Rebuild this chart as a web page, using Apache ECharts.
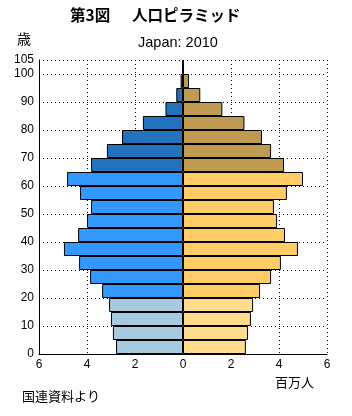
<!DOCTYPE html>
<html>
<head>
<meta charset="utf-8">
<script src="https://cdn.jsdelivr.net/npm/echarts@6/dist/echarts.min.js"></script>
<style>
html,body{margin:0;padding:0;background:#fff;}
#container{width:352px;height:416px;}
</style>
</head>
<body>
<div id="container"></div>
<script>
// 年齢階級 (5歳刻み)
var ageGroups = ['0-4','5-9','10-14','15-19','20-24','25-29','30-34','35-39','40-44','45-49',
    '50-54','55-59','60-64','65-69','70-74','75-79','80-84','85-89','90-94','95-99','100+'];
// 男 (百万人)
var male = [2.79, 2.92, 3.0, 3.08, 3.37, 3.87, 4.33, 4.96, 4.37, 4.0,
    3.83, 4.29, 4.83, 3.83, 3.17, 2.54, 1.67, 0.73, 0.28, 0.1, 0.02];
// 女 (百万人)
var female = [2.62, 2.71, 2.83, 2.92, 3.21, 3.67, 4.08, 4.79, 4.25, 3.92,
    3.79, 4.33, 5.0, 4.21, 3.67, 3.29, 2.56, 1.64, 0.72, 0.25, 0.02];
var yTicks = [0, 10, 20, 30, 40, 50, 60, 70, 80, 90, 100, 105];
var xTicks = [-6, -4, -2, 0, 2, 4, 6];

var maleColors = ['#a6cadf', '#3399ff', '#2372be'];
var femaleColors = ['#ffdc8c', '#ffcc66', '#be9b50'];

//年齢区分 0-19 / 20-64 / 65+
function band(i){
    if(i < 4) return 0;
    if(i < 13) return 1;
    return 2;
}

var maleData = [], femaleData = [];
for(var i = 0; i < ageGroups.length; i++){
    maleData.push({value: -male[i], itemStyle: {color: maleColors[band(i)]}});
    femaleData.push({value: female[i], itemStyle: {color: femaleColors[band(i)]}});
}

var dotted = {color: '#000', width: 1, type: [1, 3]};
var cjk = '"Noto Sans CJK JP", sans-serif';
var latin = '"Liberation Sans", Arial, sans-serif';

var option = {
    animation: false,
    backgroundColor: '#fff',
    grid: {left: 39, right: 25, top: 60, height: 294},
    xAxis: {
        type: 'value',
        min: xTicks[0],
        max: xTicks[xTicks.length - 1],
        interval: 2,
        axisLine: {show: true, lineStyle: {color: '#000', width: 1}},
        axisTick: {show: false},
        axisLabel: {
            color: '#000', fontSize: 12, fontFamily: latin, margin: 5,
            formatter: function(v){ return Math.abs(v); }
        },
        splitLine: {show: true, lineStyle: dotted}
    },
    yAxis: [{
        type: 'category',
        data: ageGroups,
        show: false
    }, {
        type: 'value',
        min: yTicks[0],
        max: yTicks[yTicks.length - 1],
        interval: 10,
        position: 'left',
        axisLine: {show: true, onZero: false, lineStyle: {color: '#000', width: 1}},
        axisTick: {show: false},
        axisLabel: {color: '#000', fontSize: 12, fontFamily: latin, margin: 5,
            showMaxLabel: true},
        splitLine: {show: true, lineStyle: dotted}
    }],
    series: [{
        name: '男',
        type: 'bar',
        stack: 'pop',
        yAxisIndex: 0,
        barCategoryGap: 0,
        itemStyle: {borderColor: '#000', borderWidth: 1},
        data: maleData
    }, {
        name: '女',
        type: 'bar',
        stack: 'pop',
        yAxisIndex: 0,
        barCategoryGap: 0,
        itemStyle: {borderColor: '#000', borderWidth: 1},
        data: femaleData
    }],
    graphic: [
        {type: 'text', left: 70, top: 7,
            style: {text: '第3図', font: 'bold 15.5px ' + cjk, fill: '#000'}},
        {type: 'text', left: 132, top: 7,
            style: {text: '人口ピラミッド', font: 'bold 15.5px ' + cjk, fill: '#000'}},
        {type: 'text', left: 17, top: 32,
            style: {text: '歳', font: '14px ' + cjk, fill: '#000'}},
        {type: 'text', left: 138, top: 35,
            style: {text: 'Japan: 2010', font: '14.5px ' + latin, fill: '#000'}},
        {type: 'text', left: 275, top: 376,
            style: {text: '百万人', font: '13px ' + cjk, fill: '#000'}},
        {type: 'text', left: 22, top: 390,
            style: {text: '国連資料より', font: '13px ' + cjk, fill: '#000'}}
    ]
};

echarts.init(document.getElementById('container')).setOption(option);
</script>
</body>
</html>
